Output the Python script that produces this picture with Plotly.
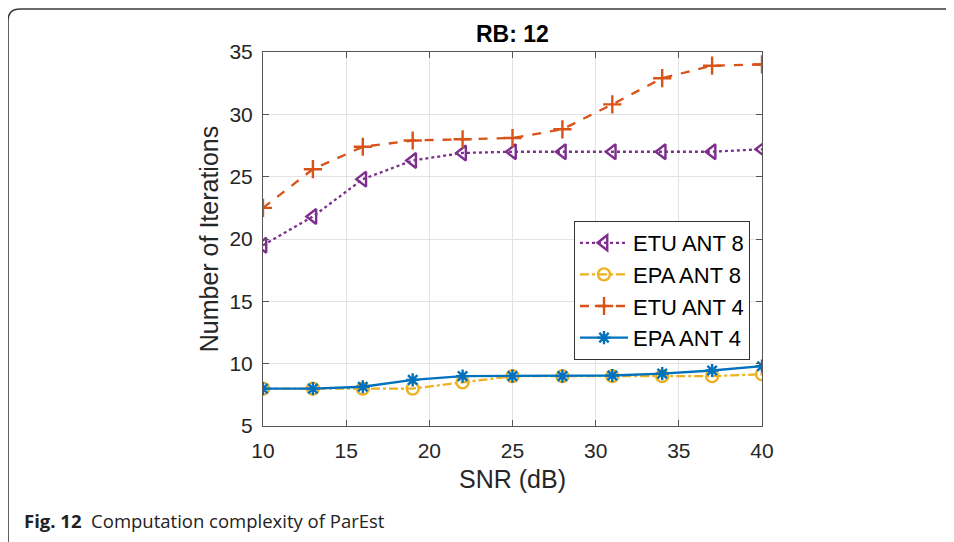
import plotly.graph_objects as go

snr = [10, 13, 16, 19, 22, 25, 28, 31, 34, 37, 40]
etu_ant8 = [19.5, 21.8, 24.8, 26.3, 26.9, 27.0, 27.0, 27.0, 27.0, 27.0, 27.2]
epa_ant8 = [8.0, 8.0, 8.0, 8.0, 8.5, 9.0, 9.0, 9.0, 9.0, 9.0, 9.15]
etu_ant4 = [22.5, 25.6, 27.4, 27.9, 28.0, 28.1, 28.8, 30.8, 32.9, 33.9, 34.0]
epa_ant4 = [8.0, 8.0, 8.15, 8.7, 9.0, 9.0, 9.0, 9.05, 9.2, 9.45, 9.8]

x_ticks = [10, 15, 20, 25, 30, 35, 40]
y_ticks = [5, 10, 15, 20, 25, 30, 35]

# page body has an 8px default margin: work in screen pixels, shift by OFF
OFF = 8
W, H = 954 - OFF, 542 - OFF
L, R, T, B = 263, 762, 52, 426  # plot area in screen pixels

fig = go.Figure()

series = [
    ("ETU ANT 8", etu_ant8, "#7E2F8E", "dot", "triangle-left-open", 13),
    ("EPA ANT 8", epa_ant8, "#EDB120", "dashdot", "circle-open", 12),
    ("ETU ANT 4", etu_ant4, "#D95319", "dash", "cross-thin-open", 13),
    ("EPA ANT 4", epa_ant4, "#0072BD", "solid", "asterisk-open", 11),
]
for name, ys, col, dash, sym, size in series:
    fig.add_trace(go.Scatter(
        x=snr, y=ys, name=name, mode="lines+markers",
        line=dict(color=col, width=2.3, dash=dash),
        marker=dict(symbol=sym, size=size, color=col, line=dict(color=col, width=2.4)),
    ))

axis_common = dict(
    showline=True, linecolor="#555555", linewidth=1, mirror="allticks",
    ticks="inside", ticklen=6, tickcolor="#555555",
    showgrid=True, gridcolor="#E3E3E3", gridwidth=1,
    zeroline=False, tickfont=dict(size=21, color="#262626"),
)

fig.update_xaxes(range=[10, 40], tickvals=x_ticks, ticklabelstandoff=6, **axis_common,
                 title=dict(text="SNR (dB)", font=dict(size=25, color="#262626"), standoff=9))
fig.update_yaxes(range=[5, 35], tickvals=y_ticks, ticklabelstandoff=5, **axis_common,
                 title=dict(text="Number of Iterations", font=dict(size=25, color="#262626"), standoff=3))

def px(x):
    return (x - L) / (R - L)

def py(y):
    return (B - y) / (B - T)

# figure frame (rounded corner at top-left)
r = 12
x0, y0 = 8, 9
path = (f"M {px(x0)},{py(H + 30)} L {px(x0)},{py(y0 + r)} "
        f"Q {px(x0)},{py(y0)} {px(x0 + r)},{py(y0)} L {px(W + 30)},{py(y0)}")
fig.add_shape(type="path", xref="paper", yref="paper", path=path,
              line=dict(color="#3a3a3a", width=1.6), layer="above")

fig.add_annotation(xref="paper", yref="paper", x=px(512), y=py(34),
                   xanchor="center", yanchor="middle",
                   text="<b>RB: 12</b>", showarrow=False,
                   font=dict(size=23, color="black", family="Liberation Sans, Arial"))

fig.add_annotation(xref="paper", yref="paper", x=px(22), y=py(520),
                   xanchor="left", yanchor="middle",
                   text="<b>Fig. 12</b>  Computation complexity of ParEst", showarrow=False,
                   font=dict(size=18.5, color="#222222", family="Open Sans, Noto Sans"))

fig.update_layout(
    width=W, height=H,
    margin=dict(l=L - OFF, r=W - (R - OFF), t=T - OFF, b=H - (B - OFF), pad=0),
    paper_bgcolor="white", plot_bgcolor="white",
    font=dict(family="Liberation Sans, Arial, Helvetica", color="#262626"),
    showlegend=True,
    legend=dict(
        x=px(574), y=py(221), xanchor="left", yanchor="top",
        bgcolor="white", bordercolor="#333333", borderwidth=1,
        font=dict(size=22, color="black"), tracegroupgap=0,
        itemwidth=48,
    ),
)

fig.write_html("out.html")
